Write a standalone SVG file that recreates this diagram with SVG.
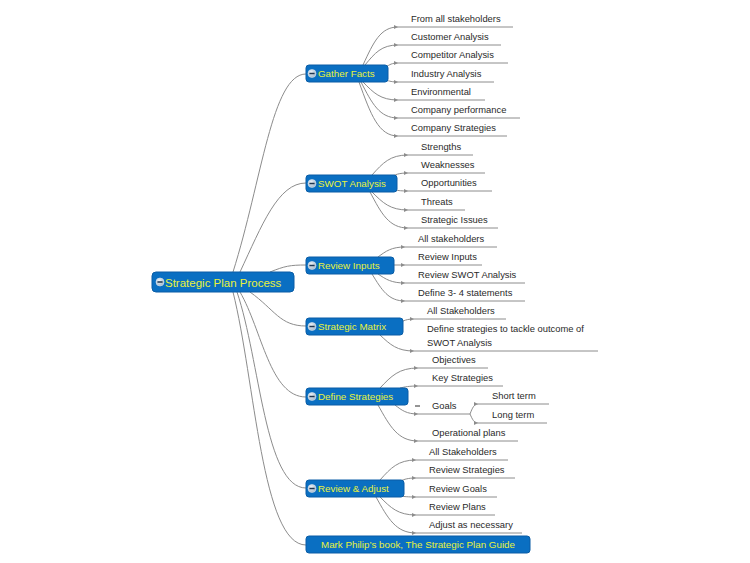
<svg xmlns="http://www.w3.org/2000/svg" xmlns:xlink="http://www.w3.org/1999/xlink" width="750" height="563" viewBox="0 0 750 563">
<style>
.nd{fill:#0a6fc2;stroke:#0a5da6;stroke-width:1}
.nt{font-family:"Liberation Sans",Arial,sans-serif;font-size:9.8px;fill:#e8f23c}
.rt{font-family:"Liberation Sans",Arial,sans-serif;font-size:11.5px;fill:#e8f23c}
.lt{font-family:"Liberation Sans",Arial,sans-serif;font-size:9.4px;fill:#2a2a2a}
.ul{stroke:#8c8c8c;stroke-width:1;fill:none}
.cn{stroke:#8c8c8c;stroke-width:1;fill:none}
.lc{stroke:#8c8c8c;stroke-width:1;fill:none;marker-end:url(#ar)}
</style>
<defs>
<marker id="ar" markerUnits="userSpaceOnUse" markerWidth="5" markerHeight="4" refX="4" refY="2" orient="auto">
<path d="M0,0 L4,2 L0,4 z" fill="#8c8c8c"/>
</marker>
<radialGradient id="ig" cx="0.4" cy="0.35" r="0.7">
<stop offset="0" stop-color="#f2f6fa"/><stop offset="1" stop-color="#9fb4c8"/>
</radialGradient>
<g id="ico"><circle r="4" fill="url(#ig)" stroke="#d8e4ee" stroke-width="0.6"/><rect x="-2.6" y="-0.75" width="5.2" height="1.5" fill="#1d3550"/></g>
</defs>
<rect width="750" height="563" fill="#ffffff"/>

<g id="connectors">
<path class="cn" d="M233,272 C262,180 272,74 306,74"/>
<path class="cn" d="M240,272 C262,225 278,183 306,183"/>
<path class="cn" d="M270,272 C285,266 290,265 306,265"/>
<path class="cn" d="M250,292 C275,310 280,326 306,326"/>
<path class="cn" d="M240,292 C262,330 270,397 306,397"/>
<path class="cn" d="M237,292 C260,360 265,488 306,488"/>
<path class="cn" d="M233,292 C255,380 262,545 306,545"/>

<path class="lc" d="M363,65 C373.5,42.2 380.5,27 398,27"/>
<path class="lc" d="M365,65 C374.9,53 381.5,45 398,45"/>
<path class="lc" d="M386,67 C389.6,64.6 392,63 398,63"/>
<path class="lc" d="M386,80 C389.6,81.2 392,82 398,82"/>
<path class="lc" d="M363,82 C373.5,92.8 380.5,100 398,100"/>
<path class="lc" d="M361,82 C372.1,103.6 379.5,118 398,118"/>
<path class="lc" d="M359,82 C370.7,114.4 378.5,136 398,136"/>

<path class="lc" d="M372,175 C382.8,163 390,155 408,155"/>
<path class="lc" d="M390,177 C395.4,174.6 399,173 408,173"/>
<path class="lc" d="M395,190 C398.9,190.6 401.5,191 408,191"/>
<path class="lc" d="M372,192 C382.8,202.8 390,210 408,210"/>
<path class="lc" d="M370,192 C381.4,213.6 389,228 408,228"/>

<path class="lc" d="M378,257 C386.1,251 391.5,247 405,247"/>
<path class="lc" d="M394,265 L405,265"/>
<path class="lc" d="M378,274 C386.1,279.4 391.5,283 405,283"/>
<path class="lc" d="M372,274 C381.9,290.2 388.5,301 405,301"/>

<path class="lc" d="M403,321 C406.3,319.8 408.5,319 414,319"/>
<path class="lc" d="M380,335 C390.2,344.6 397,351 414,351"/>

<path class="lc" d="M380,388 C391.4,376 399,368 418,368"/>
<path class="lc" d="M400,388 C405.4,386.8 409,386 418,386"/>
<path class="lc" d="M395,405 C401.9,410.4 406.5,414 418,414"/>
<path class="lc" d="M378,405 C390,426.6 398,441 418,441"/>
<path class="lc" d="M470,414 C472.4,408 474,404 478,404"/>
<path class="lc" d="M470,414 C472.4,419.4 474,423 478,423"/>

<path class="lc" d="M380,480 C390.8,468 398,460 416,460"/>
<path class="lc" d="M400,481 C404.8,479.2 408,478 416,478"/>
<path class="lc" d="M400,496 C404.8,496.6 408,497 416,497"/>
<path class="lc" d="M380,497 C390.8,507.8 398,515 416,515"/>
<path class="lc" d="M376,497 C388,518.6 396,533 416,533"/>
</g>

<g id="root">
<rect class="nd" x="152" y="272" width="142" height="20" rx="4"/>
<use xlink:href="#ico" x="160" y="282"/>
<text class="rt" x="165" y="286.5">Strategic Plan Process</text>
</g>

<g id="gather-facts">
<rect class="nd" x="306" y="65" width="82" height="17" rx="3"/>
<use xlink:href="#ico" x="312" y="73.5"/>
<text class="nt" x="318" y="77">Gather Facts</text>
</g>
<g id="gf-1"><line class="ul" x1="398" y1="27" x2="513" y2="27"/><text class="lt" x="411" y="22">From all stakeholders</text></g>
<g id="gf-2"><line class="ul" x1="398" y1="45" x2="501" y2="45"/><text class="lt" x="411" y="40">Customer Analysis</text></g>
<g id="gf-3"><line class="ul" x1="398" y1="63" x2="508" y2="63"/><text class="lt" x="411" y="58">Competitor Analysis</text></g>
<g id="gf-4"><line class="ul" x1="398" y1="82" x2="494" y2="82"/><text class="lt" x="411" y="77">Industry Analysis</text></g>
<g id="gf-5"><line class="ul" x1="398" y1="100" x2="485" y2="100"/><text class="lt" x="411" y="95">Environmental</text></g>
<g id="gf-6"><line class="ul" x1="398" y1="118" x2="520" y2="118"/><text class="lt" x="411" y="113">Company performance</text></g>
<g id="gf-7"><line class="ul" x1="398" y1="136" x2="507" y2="136"/><text class="lt" x="411" y="131">Company Strategies</text></g>

<g id="swot">
<rect class="nd" x="306" y="175" width="91" height="17" rx="3"/>
<use xlink:href="#ico" x="312" y="183.5"/>
<text class="nt" x="318" y="187">SWOT Analysis</text>
</g>
<g id="sw-1"><line class="ul" x1="408" y1="155" x2="473" y2="155"/><text class="lt" x="421" y="150">Strengths</text></g>
<g id="sw-2"><line class="ul" x1="408" y1="173" x2="485" y2="173"/><text class="lt" x="421" y="168">Weaknesses</text></g>
<g id="sw-3"><line class="ul" x1="408" y1="191" x2="492" y2="191"/><text class="lt" x="421" y="186">Opportunities</text></g>
<g id="sw-4"><line class="ul" x1="408" y1="210" x2="465" y2="210"/><text class="lt" x="421" y="205">Threats</text></g>
<g id="sw-5"><line class="ul" x1="408" y1="228" x2="498" y2="228"/><text class="lt" x="421" y="223">Strategic Issues</text></g>

<g id="review-inputs">
<rect class="nd" x="306" y="257" width="88" height="17" rx="3"/>
<use xlink:href="#ico" x="312" y="265.5"/>
<text class="nt" x="318" y="269">Review Inputs</text>
</g>
<g id="ri-1"><line class="ul" x1="405" y1="247" x2="497" y2="247"/><text class="lt" x="418" y="242">All stakeholders</text></g>
<g id="ri-2"><line class="ul" x1="405" y1="265" x2="482" y2="265"/><text class="lt" x="418" y="260">Review Inputs</text></g>
<g id="ri-3"><line class="ul" x1="405" y1="283" x2="525" y2="283"/><text class="lt" x="418" y="278">Review SWOT Analysis</text></g>
<g id="ri-4"><line class="ul" x1="405" y1="301" x2="525" y2="301"/><text class="lt" x="418" y="296">Define 3- 4 statements</text></g>

<g id="strategic-matrix">
<rect class="nd" x="306" y="318" width="97" height="17" rx="3"/>
<use xlink:href="#ico" x="312" y="326.5"/>
<text class="nt" x="318" y="330">Strategic Matrix</text>
</g>
<g id="sm-1"><line class="ul" x1="414" y1="319" x2="506" y2="319"/><text class="lt" x="427" y="314">All Stakeholders</text></g>
<g id="sm-2"><line class="ul" x1="414" y1="351" x2="598" y2="351"/><text class="lt" x="427" y="332">Define strategies to tackle outcome of</text><text class="lt" x="427" y="346">SWOT Analysis</text></g>

<g id="define-strategies">
<rect class="nd" x="306" y="388" width="102" height="17" rx="3"/>
<use xlink:href="#ico" x="312" y="396.5"/>
<text class="nt" x="318" y="400">Define Strategies</text>
</g>
<g id="ds-1"><line class="ul" x1="418" y1="368" x2="488" y2="368"/><text class="lt" x="432" y="363">Objectives</text></g>
<g id="ds-2"><line class="ul" x1="418" y1="386" x2="503" y2="386"/><text class="lt" x="432" y="381">Key Strategies</text></g>
<g id="ds-3"><line class="ul" x1="418" y1="414" x2="470" y2="414"/><line x1="415" y1="406" x2="420" y2="406" stroke="#2a2a2a" stroke-width="1"/><text class="lt" x="432" y="409">Goals</text></g>
<g id="ds-3a"><line class="ul" x1="478" y1="404" x2="549" y2="404"/><text class="lt" x="492" y="399">Short term</text></g>
<g id="ds-3b"><line class="ul" x1="478" y1="423" x2="547" y2="423"/><text class="lt" x="492" y="418">Long term</text></g>
<g id="ds-4"><line class="ul" x1="418" y1="441" x2="518" y2="441"/><text class="lt" x="432" y="436">Operational plans</text></g>

<g id="review-adjust">
<rect class="nd" x="306" y="480" width="98" height="17" rx="3"/>
<use xlink:href="#ico" x="312" y="488.5"/>
<text class="nt" x="318" y="492">Review &amp; Adjust</text>
</g>
<g id="ra-1"><line class="ul" x1="416" y1="460" x2="508" y2="460"/><text class="lt" x="429" y="455">All Stakeholders</text></g>
<g id="ra-2"><line class="ul" x1="416" y1="478" x2="515" y2="478"/><text class="lt" x="429" y="473">Review Strategies</text></g>
<g id="ra-3"><line class="ul" x1="416" y1="497" x2="497" y2="497"/><text class="lt" x="429" y="492">Review Goals</text></g>
<g id="ra-4"><line class="ul" x1="416" y1="515" x2="495" y2="515"/><text class="lt" x="429" y="510">Review Plans</text></g>
<g id="ra-5"><line class="ul" x1="416" y1="533" x2="522" y2="533"/><text class="lt" x="429" y="528">Adjust as necessary</text></g>

<g id="book">
<rect class="nd" x="306" y="536" width="224" height="17" rx="3"/>
<text class="nt" x="418" y="548" text-anchor="middle">Mark Philip’s book, The Strategic Plan Guide</text>
</g>
</svg>
